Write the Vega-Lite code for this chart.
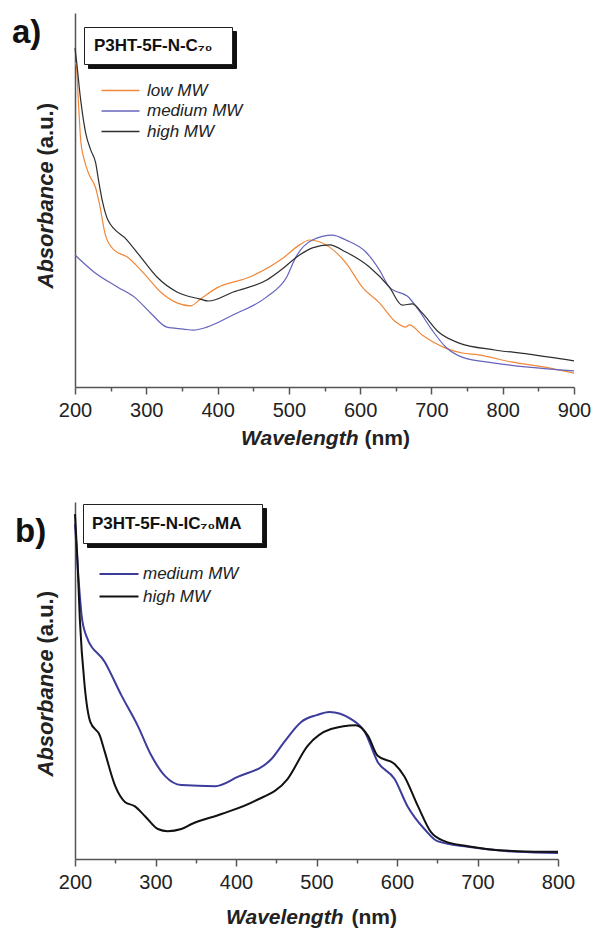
{
  "$schema": "https://vega.github.io/schema/vega-lite/v6.json",
  "background": "white",
  "padding": {"left": 12, "top": 13, "right": 5, "bottom": 5},
  "spacing": 54,
  "align": "none",
  "resolve": {"scale": {"color": "independent", "fill": "independent", "shape": "independent", "strokeDash": "independent", "x": "independent", "y": "independent"}, "legend": {"color": "independent", "fill": "independent", "shape": "independent", "strokeDash": "independent"}},
  "config": {"view": {"stroke": null}, "font": "Liberation Sans"},
  "datasets": {
    "a": [
      {"series": "low MW", "wl": 200, "abs": 0.868}, {"series": "low MW", "wl": 202, "abs": 0.858}, {"series": "low MW", "wl": 205, "abs": 0.754}, {"series": "low MW", "wl": 208, "abs": 0.66}, {"series": "low MW", "wl": 213, "abs": 0.607}, {"series": "low MW", "wl": 220, "abs": 0.567}, {"series": "low MW", "wl": 229, "abs": 0.532}, {"series": "low MW", "wl": 234, "abs": 0.492}, {"series": "low MW", "wl": 243, "abs": 0.404}, {"series": "low MW", "wl": 255, "abs": 0.366}, {"series": "low MW", "wl": 273, "abs": 0.348}, {"series": "low MW", "wl": 296, "abs": 0.305}, {"series": "low MW", "wl": 320, "abs": 0.254}, {"series": "low MW", "wl": 343, "abs": 0.225}, {"series": "low MW", "wl": 362, "abs": 0.217}, {"series": "low MW", "wl": 376, "abs": 0.235}, {"series": "low MW", "wl": 399, "abs": 0.265}, {"series": "low MW", "wl": 445, "abs": 0.294}, {"series": "low MW", "wl": 492, "abs": 0.345}, {"series": "low MW", "wl": 515, "abs": 0.38}, {"series": "low MW", "wl": 529, "abs": 0.393}, {"series": "low MW", "wl": 557, "abs": 0.374}, {"series": "low MW", "wl": 580, "abs": 0.332}, {"series": "low MW", "wl": 603, "abs": 0.267}, {"series": "low MW", "wl": 627, "abs": 0.225}, {"series": "low MW", "wl": 650, "abs": 0.174}, {"series": "low MW", "wl": 664, "abs": 0.16}, {"series": "low MW", "wl": 669, "abs": 0.166}, {"series": "low MW", "wl": 687, "abs": 0.139}, {"series": "low MW", "wl": 720, "abs": 0.104}, {"series": "low MW", "wl": 743, "abs": 0.091}, {"series": "low MW", "wl": 766, "abs": 0.086}, {"series": "low MW", "wl": 812, "abs": 0.067}, {"series": "low MW", "wl": 859, "abs": 0.053}, {"series": "low MW", "wl": 900, "abs": 0.037},
      {"series": "medium MW", "wl": 200, "abs": 0.353}, {"series": "medium MW", "wl": 227, "abs": 0.307}, {"series": "medium MW", "wl": 260, "abs": 0.267}, {"series": "medium MW", "wl": 283, "abs": 0.241}, {"series": "medium MW", "wl": 306, "abs": 0.198}, {"series": "medium MW", "wl": 329, "abs": 0.16}, {"series": "medium MW", "wl": 352, "abs": 0.155}, {"series": "medium MW", "wl": 366, "abs": 0.152}, {"series": "medium MW", "wl": 385, "abs": 0.16}, {"series": "medium MW", "wl": 422, "abs": 0.193}, {"series": "medium MW", "wl": 469, "abs": 0.241}, {"series": "medium MW", "wl": 497, "abs": 0.294}, {"series": "medium MW", "wl": 510, "abs": 0.348}, {"series": "medium MW", "wl": 533, "abs": 0.393}, {"series": "medium MW", "wl": 561, "abs": 0.406}, {"series": "medium MW", "wl": 580, "abs": 0.393}, {"series": "medium MW", "wl": 608, "abs": 0.361}, {"series": "medium MW", "wl": 627, "abs": 0.313}, {"series": "medium MW", "wl": 641, "abs": 0.267}, {"series": "medium MW", "wl": 669, "abs": 0.238}, {"series": "medium MW", "wl": 682, "abs": 0.206}, {"series": "medium MW", "wl": 701, "abs": 0.152}, {"series": "medium MW", "wl": 720, "abs": 0.107}, {"series": "medium MW", "wl": 743, "abs": 0.08}, {"series": "medium MW", "wl": 789, "abs": 0.064}, {"series": "medium MW", "wl": 836, "abs": 0.053}, {"series": "medium MW", "wl": 900, "abs": 0.043},
      {"series": "high MW", "wl": 200, "abs": 0.906}, {"series": "high MW", "wl": 202, "abs": 0.874}, {"series": "high MW", "wl": 208, "abs": 0.767}, {"series": "high MW", "wl": 215, "abs": 0.679}, {"series": "high MW", "wl": 222, "abs": 0.634}, {"series": "high MW", "wl": 229, "abs": 0.599}, {"series": "high MW", "wl": 233, "abs": 0.553}, {"series": "high MW", "wl": 239, "abs": 0.492}, {"series": "high MW", "wl": 246, "abs": 0.447}, {"series": "high MW", "wl": 273, "abs": 0.393}, {"series": "high MW", "wl": 292, "abs": 0.348}, {"series": "high MW", "wl": 315, "abs": 0.294}, {"series": "high MW", "wl": 343, "abs": 0.254}, {"series": "high MW", "wl": 376, "abs": 0.235}, {"series": "high MW", "wl": 387, "abs": 0.23}, {"series": "high MW", "wl": 422, "abs": 0.254}, {"series": "high MW", "wl": 469, "abs": 0.286}, {"series": "high MW", "wl": 487, "abs": 0.31}, {"series": "high MW", "wl": 515, "abs": 0.353}, {"series": "high MW", "wl": 533, "abs": 0.372}, {"series": "high MW", "wl": 557, "abs": 0.38}, {"series": "high MW", "wl": 580, "abs": 0.361}, {"series": "high MW", "wl": 613, "abs": 0.321}, {"series": "high MW", "wl": 641, "abs": 0.267}, {"series": "high MW", "wl": 659, "abs": 0.219}, {"series": "high MW", "wl": 673, "abs": 0.222}, {"series": "high MW", "wl": 687, "abs": 0.198}, {"series": "high MW", "wl": 710, "abs": 0.147}, {"series": "high MW", "wl": 738, "abs": 0.118}, {"series": "high MW", "wl": 789, "abs": 0.099}, {"series": "high MW", "wl": 836, "abs": 0.088}, {"series": "high MW", "wl": 900, "abs": 0.07}
    ],
    "b": [
      {"series": "medium MW", "wl": 200, "abs": 0.938}, {"series": "medium MW", "wl": 204, "abs": 0.798}, {"series": "medium MW", "wl": 208, "abs": 0.686}, {"series": "medium MW", "wl": 214, "abs": 0.625}, {"series": "medium MW", "wl": 237, "abs": 0.552}, {"series": "medium MW", "wl": 258, "abs": 0.457}, {"series": "medium MW", "wl": 278, "abs": 0.373}, {"series": "medium MW", "wl": 295, "abs": 0.289}, {"series": "medium MW", "wl": 312, "abs": 0.232}, {"series": "medium MW", "wl": 332, "abs": 0.207}, {"series": "medium MW", "wl": 374, "abs": 0.204}, {"series": "medium MW", "wl": 402, "abs": 0.23}, {"series": "medium MW", "wl": 444, "abs": 0.28}, {"series": "medium MW", "wl": 460, "abs": 0.328}, {"series": "medium MW", "wl": 481, "abs": 0.384}, {"series": "medium MW", "wl": 500, "abs": 0.403}, {"series": "medium MW", "wl": 516, "abs": 0.412}, {"series": "medium MW", "wl": 543, "abs": 0.392}, {"series": "medium MW", "wl": 560, "abs": 0.356}, {"series": "medium MW", "wl": 576, "abs": 0.272}, {"series": "medium MW", "wl": 597, "abs": 0.224}, {"series": "medium MW", "wl": 613, "abs": 0.148}, {"series": "medium MW", "wl": 634, "abs": 0.084}, {"series": "medium MW", "wl": 650, "abs": 0.05}, {"series": "medium MW", "wl": 688, "abs": 0.034}, {"series": "medium MW", "wl": 750, "abs": 0.02}, {"series": "medium MW", "wl": 800, "abs": 0.017},
      {"series": "high MW", "wl": 200, "abs": 0.966}, {"series": "high MW", "wl": 203, "abs": 0.84}, {"series": "high MW", "wl": 206, "abs": 0.672}, {"series": "high MW", "wl": 212, "abs": 0.485}, {"series": "high MW", "wl": 219, "abs": 0.384}, {"series": "high MW", "wl": 231, "abs": 0.345}, {"series": "high MW", "wl": 237, "abs": 0.3}, {"series": "high MW", "wl": 250, "abs": 0.204}, {"series": "high MW", "wl": 262, "abs": 0.16}, {"series": "high MW", "wl": 274, "abs": 0.148}, {"series": "high MW", "wl": 287, "abs": 0.12}, {"series": "high MW", "wl": 303, "abs": 0.084}, {"series": "high MW", "wl": 315, "abs": 0.078}, {"series": "high MW", "wl": 332, "abs": 0.084}, {"series": "high MW", "wl": 345, "abs": 0.098}, {"series": "high MW", "wl": 382, "abs": 0.126}, {"series": "high MW", "wl": 423, "abs": 0.162}, {"series": "high MW", "wl": 464, "abs": 0.224}, {"series": "high MW", "wl": 489, "abs": 0.317}, {"series": "high MW", "wl": 518, "abs": 0.364}, {"series": "high MW", "wl": 549, "abs": 0.375}, {"series": "high MW", "wl": 564, "abs": 0.345}, {"series": "high MW", "wl": 576, "abs": 0.289}, {"series": "high MW", "wl": 597, "abs": 0.266}, {"series": "high MW", "wl": 609, "abs": 0.232}, {"series": "high MW", "wl": 626, "abs": 0.148}, {"series": "high MW", "wl": 642, "abs": 0.076}, {"series": "high MW", "wl": 659, "abs": 0.05}, {"series": "high MW", "wl": 688, "abs": 0.036}, {"series": "high MW", "wl": 750, "abs": 0.022}, {"series": "high MW", "wl": 800, "abs": 0.02}
    ]
  },
  "vconcat": [
    {
      "width": 499,
      "height": 374,
      "data": {"name": "a"},
      "resolve": {"axis": {"x": "independent", "y": "independent"}},
      "layer": [
        {
          "mark": {"type": "line", "strokeWidth": 1.2, "interpolate": "monotone"},
          "encoding": {
            "x": {"field": "wl", "type": "quantitative", "scale": {"domain": [200, 900], "nice": false},
              "axis": {"title": "Wavelength", "values": [200, 250, 300, 350, 400, 450, 500, 550, 600, 650, 700, 750, 800, 850, 900], "labelExpr": "datum.value % 100 === 0 ? datum.label : ''", "tickSize": {"condition": {"test": "datum.value % 100 === 0", "value": 7}, "value": 4}, "labelFontSize": 20, "labelColor": "#222", "labelPadding": 6, "labelFlush": false, "labelOverlap": false, "domainColor": "#555", "domainWidth": 1.5, "tickColor": "#555", "tickWidth": 1.5, "grid": false, "titleFontSize": 21, "titleFontWeight": "bold", "titleFontStyle": "italic", "titleColor": "#222", "titleAlign": "right", "titleBaseline": "middle", "titleX": 283, "titleY": 51}},
            "y": {"field": "abs", "type": "quantitative", "scale": {"domain": [0, 1]},
              "axis": {"title": "Absorbance", "ticks": false, "labels": false, "grid": false, "domainColor": "#555", "domainWidth": 1.5, "titleFontSize": 22, "titleFontWeight": "bold", "titleFontStyle": "italic", "titleColor": "#222", "titleAngle": 270, "titleAlign": "left", "titleBaseline": "alphabetic", "titleX": -23, "titleY": 275}},
            "color": {"field": "series", "type": "nominal", "scale": {"domain": ["low MW", "medium MW", "high MW"], "range": ["#F0883A", "#6464BE", "#2E2E2E"]},
              "legend": {"orient": "none", "legendX": 35, "legendY": 67, "title": null, "symbolType": "M-2,0H2", "symbolSize": 361, "symbolStrokeWidth": 1.3, "labelFontSize": 17, "labelFontStyle": "italic", "labelFont": "Liberation Sans", "labelColor": "#222", "labelOffset": 16, "rowPadding": 1.5}}
          }
        },
        {
          "mark": {"type": "point", "opacity": 0},
          "encoding": {
            "x": {"field": "wl", "type": "quantitative", "axis": {"title": "(nm)", "orient": "bottom", "domain": false, "ticks": false, "labels": false, "grid": false, "titleFontSize": 21, "titleFontWeight": "bold", "titleFontStyle": "normal", "titleColor": "#222", "titleAlign": "left", "titleBaseline": "middle", "titleX": 289, "titleY": 51}},
            "y": {"field": "abs", "type": "quantitative", "axis": {"title": "(a.u.)", "orient": "left", "domain": false, "ticks": false, "labels": false, "grid": false, "titleFontSize": 22, "titleFontWeight": "bold", "titleFontStyle": "normal", "titleColor": "#222", "titleAngle": 270, "titleAlign": "left", "titleBaseline": "alphabetic", "titleX": -23, "titleY": 142}},
            "shape": {"datum": "P3HT-5F-N-C₇₀\u00a0\u00a0\u200b", "legend": {"orient": "none", "legendX": 13, "legendY": 18, "title": null, "fillColor": "#111", "strokeColor": "#111", "padding": 10, "symbolSize": 0, "symbolOpacity": 0, "symbolStrokeWidth": 0, "labelOffset": -17, "labelFontSize": 17, "labelFontWeight": "bold", "labelFont": "Liberation Sans", "labelColor": "#111", "labelLimit": 300}},
            "fill": {"datum": "P3HT-5F-N-C₇₀\u00a0\u00a0\u2060", "legend": {"orient": "none", "legendX": 9, "legendY": 14, "title": null, "fillColor": "white", "strokeColor": "#222", "padding": 10, "symbolSize": 0, "symbolOpacity": 0, "symbolStrokeWidth": 0, "labelOffset": -17, "labelFontSize": 17, "labelFontWeight": "bold", "labelFont": "Liberation Sans", "labelColor": "#111", "labelLimit": 300}},
            "strokeDash": {"datum": "a)", "legend": {"orient": "none", "legendX": -63, "legendY": 3, "title": null, "padding": 0, "symbolSize": 0, "symbolOpacity": 0, "symbolStrokeWidth": 0, "labelOffset": -33, "labelFontSize": 33, "labelFontWeight": "bold", "labelFont": "Liberation Sans", "labelColor": "#111"}}
          }
        }
      ]
    },
    {
      "width": 483,
      "height": 357,
      "data": {"name": "b"},
      "resolve": {"axis": {"x": "independent", "y": "independent"}},
      "layer": [
        {
          "mark": {"type": "line", "strokeWidth": 2, "interpolate": "monotone"},
          "encoding": {
            "x": {"field": "wl", "type": "quantitative", "scale": {"domain": [200, 800], "nice": false},
              "axis": {"title": "Wavelength", "values": [200, 250, 300, 350, 400, 450, 500, 550, 600, 650, 700, 750, 800], "labelExpr": "datum.value % 100 === 0 ? datum.label : ''", "tickSize": {"condition": {"test": "datum.value % 100 === 0", "value": 7}, "value": 4}, "labelFontSize": 20, "labelColor": "#222", "labelPadding": 6, "labelFlush": false, "labelOverlap": false, "domainColor": "#555", "domainWidth": 1.5, "tickColor": "#555", "tickWidth": 1.5, "grid": false, "titleFontSize": 21, "titleFontWeight": "bold", "titleFontStyle": "italic", "titleColor": "#222", "titleAlign": "right", "titleBaseline": "middle", "titleX": 268, "titleY": 58}},
            "y": {"field": "abs", "type": "quantitative", "scale": {"domain": [0, 1]},
              "axis": {"title": "Absorbance", "ticks": false, "labels": false, "grid": false, "domainColor": "#555", "domainWidth": 1.5, "titleFontSize": 22, "titleFontWeight": "bold", "titleFontStyle": "italic", "titleColor": "#222", "titleAngle": 270, "titleAlign": "left", "titleBaseline": "alphabetic", "titleX": -23, "titleY": 274}},
            "color": {"field": "series", "type": "nominal", "scale": {"domain": ["medium MW", "high MW"], "range": ["#3C3C9C", "#111111"]},
              "legend": {"orient": "none", "legendX": 33, "legendY": 61, "title": null, "symbolType": "M-2,0H2", "symbolSize": 380, "symbolStrokeWidth": 2, "labelFontSize": 17, "labelFontStyle": "italic", "labelFont": "Liberation Sans", "labelColor": "#222", "labelOffset": 13, "rowPadding": 3.5}}
          }
        },
        {
          "mark": {"type": "point", "opacity": 0},
          "encoding": {
            "x": {"field": "wl", "type": "quantitative", "axis": {"title": "(nm)", "orient": "bottom", "domain": false, "ticks": false, "labels": false, "grid": false, "titleFontSize": 21, "titleFontWeight": "bold", "titleFontStyle": "normal", "titleColor": "#222", "titleAlign": "left", "titleBaseline": "middle", "titleX": 276, "titleY": 58}},
            "y": {"field": "abs", "type": "quantitative", "axis": {"title": "(a.u.)", "orient": "left", "domain": false, "ticks": false, "labels": false, "grid": false, "titleFontSize": 22, "titleFontWeight": "bold", "titleFontStyle": "normal", "titleColor": "#222", "titleAngle": 270, "titleAlign": "left", "titleBaseline": "alphabetic", "titleX": -23, "titleY": 141}},
            "shape": {"datum": "P3HT-5F-N-IC₇₀MA\u00a0\u00a0\u200b", "legend": {"orient": "none", "legendX": 12, "legendY": 6, "title": null, "fillColor": "#111", "strokeColor": "#111", "padding": 11, "symbolSize": 0, "symbolOpacity": 0, "symbolStrokeWidth": 0, "labelOffset": -19, "labelFontSize": 17, "labelFontWeight": "bold", "labelFont": "Liberation Sans", "labelColor": "#111", "labelLimit": 300}},
            "fill": {"datum": "P3HT-5F-N-IC₇₀MA\u00a0\u00a0\u2060", "legend": {"orient": "none", "legendX": 8, "legendY": 2, "title": null, "fillColor": "white", "strokeColor": "#222", "padding": 11, "symbolSize": 0, "symbolOpacity": 0, "symbolStrokeWidth": 0, "labelOffset": -19, "labelFontSize": 17, "labelFontWeight": "bold", "labelFont": "Liberation Sans", "labelColor": "#111", "labelLimit": 300}},
            "strokeDash": {"datum": "b)", "legend": {"orient": "none", "legendX": -58, "legendY": 13, "title": null, "padding": 0, "symbolSize": 0, "symbolOpacity": 0, "symbolStrokeWidth": 0, "labelOffset": -35, "labelFontSize": 33, "labelFontWeight": "bold", "labelFont": "Liberation Sans", "labelColor": "#111"}}
          }
        }
      ]
    }
  ]
}
